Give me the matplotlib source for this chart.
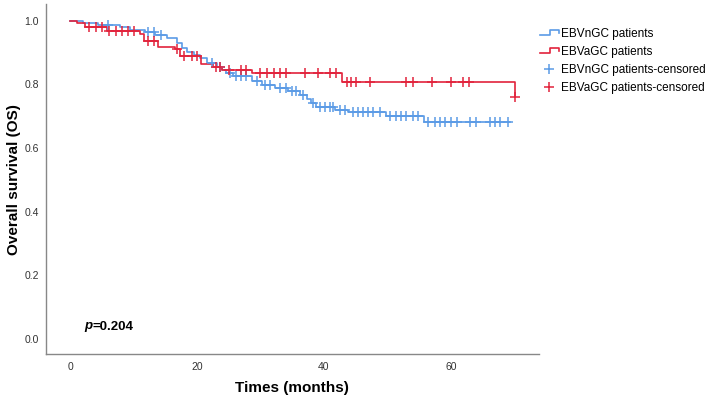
import numpy as np
import matplotlib
matplotlib.use("Agg")
import matplotlib.pyplot as plt
from matplotlib.lines import Line2D
from matplotlib.legend_handler import HandlerBase

plt.rcParams['font.family'] = ['Liberation Sans', 'DejaVu Sans']

# Kaplan-Meier steps (time in months, survival after the event)
ebvn_t = [0, 2.0, 4.4, 7.9, 9.5, 11.8, 13.4, 15.2, 16.8, 17.6, 18.4, 19.5, 20.5,
          21.6, 23.2, 24.0, 24.5, 25.6, 28.6, 30.2, 32.3, 34.4, 36.2, 37.3, 38.0,
          38.7, 41.7, 43.8, 49.8, 55.7, 69.3]
ebvn_s = [1.0, 0.994, 0.987, 0.980, 0.972, 0.964, 0.956, 0.946, 0.930, 0.914, 0.903,
          0.893, 0.883, 0.867, 0.856, 0.846, 0.835, 0.827, 0.812, 0.799, 0.788, 0.778,
          0.767, 0.754, 0.741, 0.730, 0.720, 0.713, 0.701, 0.683, 0.683]
ebvn_cens = [6.0, 12.2, 13.2, 14.3, 22.3, 23.6, 25.2, 26.2, 27.0, 27.8, 29.4, 30.7,
             31.5, 33.1, 34.0, 34.9, 35.6, 36.7, 38.3, 39.4, 40.2, 40.9, 41.5, 42.5,
             43.3, 44.6, 45.4, 46.2, 47.0, 47.8, 48.8, 50.4, 51.4, 52.2, 53.0, 54.1,
             54.9, 56.4, 57.5, 58.3, 59.1, 60.0, 61.0, 63.0, 64.0, 66.1, 67.0, 67.8, 69.0]

ebva_t = [0, 1.15, 2.4, 5.8, 11.0, 11.7, 13.9, 16.5, 17.3, 20.7, 22.5, 24.0, 28.6,
          42.9, 70.1]
ebva_s = [1.0, 0.992, 0.980, 0.969, 0.959, 0.938, 0.919, 0.912, 0.890, 0.865, 0.854,
          0.846, 0.835, 0.807, 0.762]
ebva_cens = [3.0, 4.1, 5.0, 6.2, 7.2, 8.2, 9.1, 10.1, 12.3, 13.3, 16.8, 18.0, 19.2,
             20.0, 23.0, 23.7, 25.1, 27.0, 27.8, 29.9, 31.1, 32.1, 33.1, 34.0, 37.0,
             39.0, 41.0, 41.9, 43.6, 44.3, 45.0, 47.2, 53.0, 54.0, 57.0, 60.0, 61.9,
             62.9, 70.1]

labels = ['EBVnGC patients', 'EBVaGC patients',
          'EBVnGC patients-censored', 'EBVaGC patients-censored']
blue = '#5b9be6'
red = '#e2233c'


def level_at(times, surv, pts):
    idx = np.searchsorted(times, pts, side='right') - 1
    return np.asarray(surv)[idx]


class StepHandler(HandlerBase):
    def create_artists(self, legend, orig_handle, xdescent, ydescent,
                       width, height, fontsize, trans):
        x0, y0 = -xdescent, -ydescent
        xs = [x0, x0 + 0.55 * width, x0 + 0.55 * width, x0 + width, x0 + width]
        ys = [y0 + 0.2 * height, y0 + 0.2 * height, y0 + 0.85 * height,
              y0 + 0.85 * height, y0 + 0.5 * height]
        ln = Line2D(xs, ys, color=orig_handle.get_color(), lw=1.2, transform=trans)
        return [ln]


fig = plt.figure(figsize=(7.08, 4.01), dpi=100)
ax = fig.add_axes([46 / 708, 1 - 354 / 401, (539 - 46) / 708, (354 - 4) / 401])

l1, = ax.step(ebvn_t, ebvn_s, where='post', color=blue, lw=1.2)
l2, = ax.step(ebva_t, ebva_s, where='post', color=red, lw=1.2)
c1, = ax.plot(ebvn_cens, level_at(ebvn_t, ebvn_s, ebvn_cens), ls='none',
              marker='+', ms=6.5, mew=1.1, color=blue)
c2, = ax.plot(ebva_cens, level_at(ebva_t, ebva_s, ebva_cens), ls='none',
              marker='+', ms=6.5, mew=1.1, color=red)

ax.set_xlim(-3.8, 73.9)
ax.set_ylim(-0.047, 1.053)
ax.set_xticks([0, 20, 40, 60])
ax.set_yticks([0.0, 0.2, 0.4, 0.6, 0.8, 1.0])
ax.set_yticklabels(['0.0', '0.2', '0.4', '0.6', '0.8', '1.0'])
ax.tick_params(length=0, labelsize=7.5, colors='#333333')
ax.tick_params(axis='x', pad=6)
ax.tick_params(axis='y', pad=5)
for s in ['top', 'right']:
    ax.spines[s].set_visible(False)
for s in ['left', 'bottom']:
    ax.spines[s].set_color('#888888')
    ax.spines[s].set_linewidth(1.0)

fig.text(14 / 708, 1 - 180 / 401, 'Overall survival (OS)', fontsize=11,
         fontweight='bold', rotation=90, ha='center', va='center')
fig.text(292 / 708, 1 - 388 / 401, 'Times (months)', fontsize=11,
         fontweight='bold', ha='center', va='center')

ax.text(2.3, 0.03, 'p', fontsize=9.5, fontweight='bold', style='italic')
ax.text(3.6, 0.03, '=0.204', fontsize=9.5, fontweight='bold')

fig.legend([l1, l2, c1, c2], labels, loc='upper left',
           bbox_to_anchor=(540 / 708, 1 - 28 / 401), frameon=False,
           fontsize=8.5, handlelength=1.6, handletextpad=0.15,
           labelspacing=0.5, borderpad=0, borderaxespad=0,
           handler_map={l1: StepHandler(), l2: StepHandler()})

fig.savefig('out.png', dpi=100)
